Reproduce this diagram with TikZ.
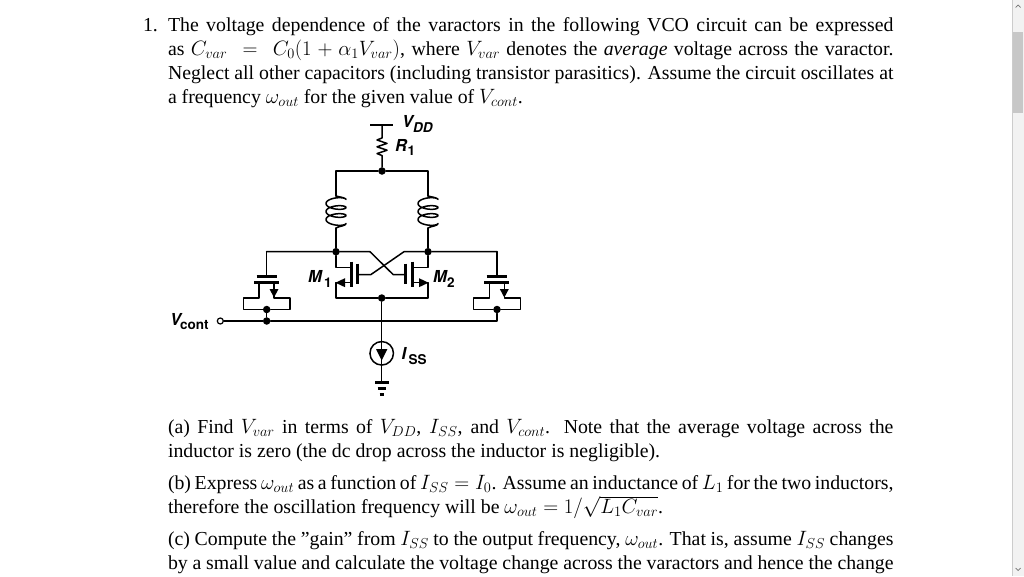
\documentclass[tikz,border=0pt]{standalone}
\usepackage{fontspec}
\setmainfont{Liberation Serif}
\newfontfamily\labfont{TeX Gyre Heros}
\newcommand{\lV}[1]{{\fontsize{16.5}{16}\selectfont\labfont\bfseries\itshape #1}}
\newcommand{\lS}[1]{{\fontsize{13.5}{13}\selectfont\labfont\bfseries #1}}
\tikzset{
  wire/.style={line width=1.5pt,line cap=round,line join=round},
  plate/.style={line width=2.6pt},
  dot/.style={circle,fill=black,inner sep=0pt,minimum size=7.5pt},
  opendot/.style={circle,draw,fill=white,line width=1.2pt,inner sep=0pt,minimum size=6pt},
  txt/.style={anchor=base west,inner sep=0pt,outer sep=0pt,font=\fontsize{19.8}{24}\selectfont},
  lab/.style={anchor=base west,inner sep=0pt,outer sep=0pt},
  head/.style={fill=black,draw=none},
  caret/.style={line width=0.7pt,draw=black!55}
}
\newcommand{\jl}[1]{\makebox[725.5pt][s]{#1}}
\newcommand{\coil}[1]{%
  \draw[wire,line width=1.5pt,smooth] (#1,196) .. controls (#1+3,197) and (#1+7,197) .. (#1+10,199)
    plot[domain=0:1080,samples=73,smooth] ({#1+10*cos(\x)},{199.5+\x/360*8-3.6*sin(\x)})
    .. controls (#1+10,226) and (#1+3,226) .. (#1,228);}
\begin{document}
\begin{tikzpicture}[x=1pt,y=-1pt]
\useasboundingbox (0,0) rectangle (1024,576);
\fill[white] (0,0) rectangle (1024,576);
% scrollbar
\fill[black!5] (1012,0) rectangle (1024,576);
\draw[black!20,line width=0.8pt] (1012.4,0) -- (1012.4,576);
\fill[black!22] (1013,32) rectangle (1023,113);
\draw[caret] (1015.5,7.5) -- (1018,5) -- (1020.5,7.5);
\draw[caret] (1015.5,568) -- (1018,570.5) -- (1020.5,568);
% text
\node[txt] (num) at (143,31.5) {1.};
\node[txt] (l1) at (168,31.5) {\jl{The voltage dependence of the varactors in the following VCO circuit can be expressed}};
\node[txt] (l2) at (168,55.5) {\jl{as $C_{var}\ =\ C_0(1+\alpha_1V_{var})$, where $V_{var}$ denotes the \textit{average} voltage across the varactor.}};
\node[txt] (l3) at (168,79.5) {\jl{Neglect all other capacitors (including transistor parasitics). Assume the circuit oscillates at}};
\node[txt] (l4) at (168,103.5) {a frequency $\omega_{out}$ for the given value of $V_{cont}$.};
\node[txt] (a1) at (168,433.5) {\jl{(a) Find $V_{var}$ in terms of $V_{DD}$, $I_{SS}$, and $V_{cont}$. Note that the average voltage across the}};
\node[txt] (a2) at (168,457.5) {inductor is zero (the dc drop across the inductor is negligible).};
\node[txt] (b1) at (168,489.5) {\jl{(b) Express $\omega_{out}$ as a function of $I_{SS}=I_0$. Assume an inductance of $L_1$ for the two inductors,}};
\node[txt] (b2) at (168,513.5) {therefore the oscillation frequency will be $\omega_{out}=1/\sqrt{L_1C_{var}}$.};
\node[txt] (c1) at (168,545.5) {\jl{(c) Compute the ”gain” from $I_{SS}$ to the output frequency, $\omega_{out}$. That is, assume $I_{SS}$ changes}};
\node[txt] (c2) at (168,569.5) {\jl{by a small value and calculate the voltage change across the varactors and hence the change}};
% key points
\node[dot] (top) at (382,171) {};
\node[dot] (dl) at (336,251.7) {};
\node[dot] (dr) at (428,251.7) {};
\node[dot] (tail) at (381.7,298) {};
\node[dot] (vl1) at (266.7,309.5) {};
\node[dot] (vl2) at (266.7,321) {};
\node[dot] (vr) at (497,309.5) {};
\node[opendot] (vc) at (220.3,321) {};
\coordinate (vddT) at (382,125);
\coordinate (vddL) at (370,125);
\coordinate (vddR) at (393,125);
\coordinate (rT) at (382,138);
\coordinate (rB) at (382,158);
\coordinate (tl) at (336,171);
\coordinate (tr) at (428,171);
\coordinate (ltop) at (336,196);
\coordinate (lbot) at (336,228);
\coordinate (rtop) at (428,196);
\coordinate (rbot) at (428,228);
% supply and resistor
\draw[plate] (vddL) -- (vddR);
\draw[wire] (vddT) -- (rT) -- ++(-5,2) -- ++(10,3.4) -- ++(-10,3.4) -- ++(10,3.4) -- ++(-10,3.4) -- ++(5,1.9) -- (rB) -- (top);
\draw[wire] (lbot) -- (dl);
\draw[wire] (ltop) -- (tl) -- (top) -- (tr) -- (rtop);
\draw[wire] (rbot) -- (dr);
\coil{336}
\coil{428}
% rails
\coordinate (rl) at (266.7,251.7);
\coordinate (rr) at (497,251.7);
\coordinate (xl) at (370,251.7);
\coordinate (xr) at (404,251.7);
\draw[wire] (rl) -- (dl) -- (xl) -- (393.3,274.7) -- (405.7,274.7);
\draw[wire] (rr) -- (dr) -- (xr) -- (370.7,274.7) -- (357.7,274.7);
% M1
\draw[wire] (dl) -- (336,267.7) -- (351,267.7);
\draw[wire] (351,282.7) -- (336,282.7) -- (336,298) -- (tail);
\draw[plate] (351.3,261.7) -- (351.3,287.3);
\draw[plate] (357.7,263.5) -- (357.7,284);
\fill[head] (335.5,282.7) -- (345,278.2) -- (345,287.2) -- cycle;
% M2
\draw[wire] (dr) -- (428,267.7) -- (412.3,267.7);
\draw[wire] (412.3,282.7) -- (428,282.7) -- (428,298) -- (tail);
\draw[plate] (412.3,261.7) -- (412.3,287.3);
\draw[plate] (405.7,263.5) -- (405.7,284);
\fill[head] (428.5,282.7) -- (419,278.2) -- (419,287.2) -- cycle;
% left varactor
\draw[wire] (rl) -- (266.7,276.7);
\draw[plate] (256.7,276.7) -- (276.7,276.7);
\draw[plate] (254,282.7) -- (279,282.7);
\draw[wire] (259,282.7) -- (259,298) -- (243.3,298) -- (243.3,309.5) -- (vl1) -- (290,309.5) -- (290,298) -- (274,298) -- (274,282.7);
\fill[head] (274,297.5) -- (269.5,289) -- (278.5,289) -- cycle;
% right varactor
\draw[wire] (rr) -- (497,276.7);
\draw[plate] (486.7,276.7) -- (506.7,276.7);
\draw[plate] (484,282.7) -- (509,282.7);
\draw[wire] (489.3,282.7) -- (489.3,298) -- (473.7,298) -- (473.7,309.5) -- (vr) -- (520.3,309.5) -- (520.3,298) -- (504.3,298) -- (504.3,282.7);
\fill[head] (504.3,297.5) -- (499.8,289) -- (508.8,289) -- cycle;
% control line
\draw[wire] (vl1) -- (vl2);
\draw[wire] (vc) -- (vl2) -- (497,321) -- (vr);
% current source
\node[circle,draw,line width=1.5pt,inner sep=0pt,minimum size=23.5pt] (cs) at (381.7,353.3) {};
\coordinate (gnd) at (381.7,382.7);
\draw[wire] (tail) -- (cs);
\draw[wire] (cs) -- (gnd);
\draw[wire] (cs.north) -- (cs.south);
\fill[head] (381.7,360.5) -- (376,349) -- (387.4,349) -- cycle;
\draw[plate] (375,382.7) -- (389,382.7);
\draw[plate] (377.5,388.5) -- (386,388.5);
\draw[plate] (379.7,394.3) -- (384,394.3);
% labels
\node[lab] (vddlab) at (402,127) {\lV{V}};
\node[lab] (vddsub) at (413,132) {\lS{\itshape DD}};
\node[lab] (r1lab) at (395,151) {\lV{R}};
\node[lab] (r1sub) at (407.5,155) {\lS{1}};
\node[lab] (m1lab) at (308,282.5) {\lV{M}};
\node[lab] (m1sub) at (324,287) {\lS{1}};
\node[lab] (m2lab) at (433,282.5) {\lV{M}};
\node[lab] (m2sub) at (447,287) {\lS{2}};
\node[lab] (vclab) at (170,325) {\lV{V}};
\node[lab] (vcsub) at (180,329.5) {\lS{cont}};
\node[lab] (isslab) at (401.5,359.5) {\lV{I}};
\node[lab] (isssub) at (408.5,364) {\lS{SS}};
\end{tikzpicture}
\end{document}
